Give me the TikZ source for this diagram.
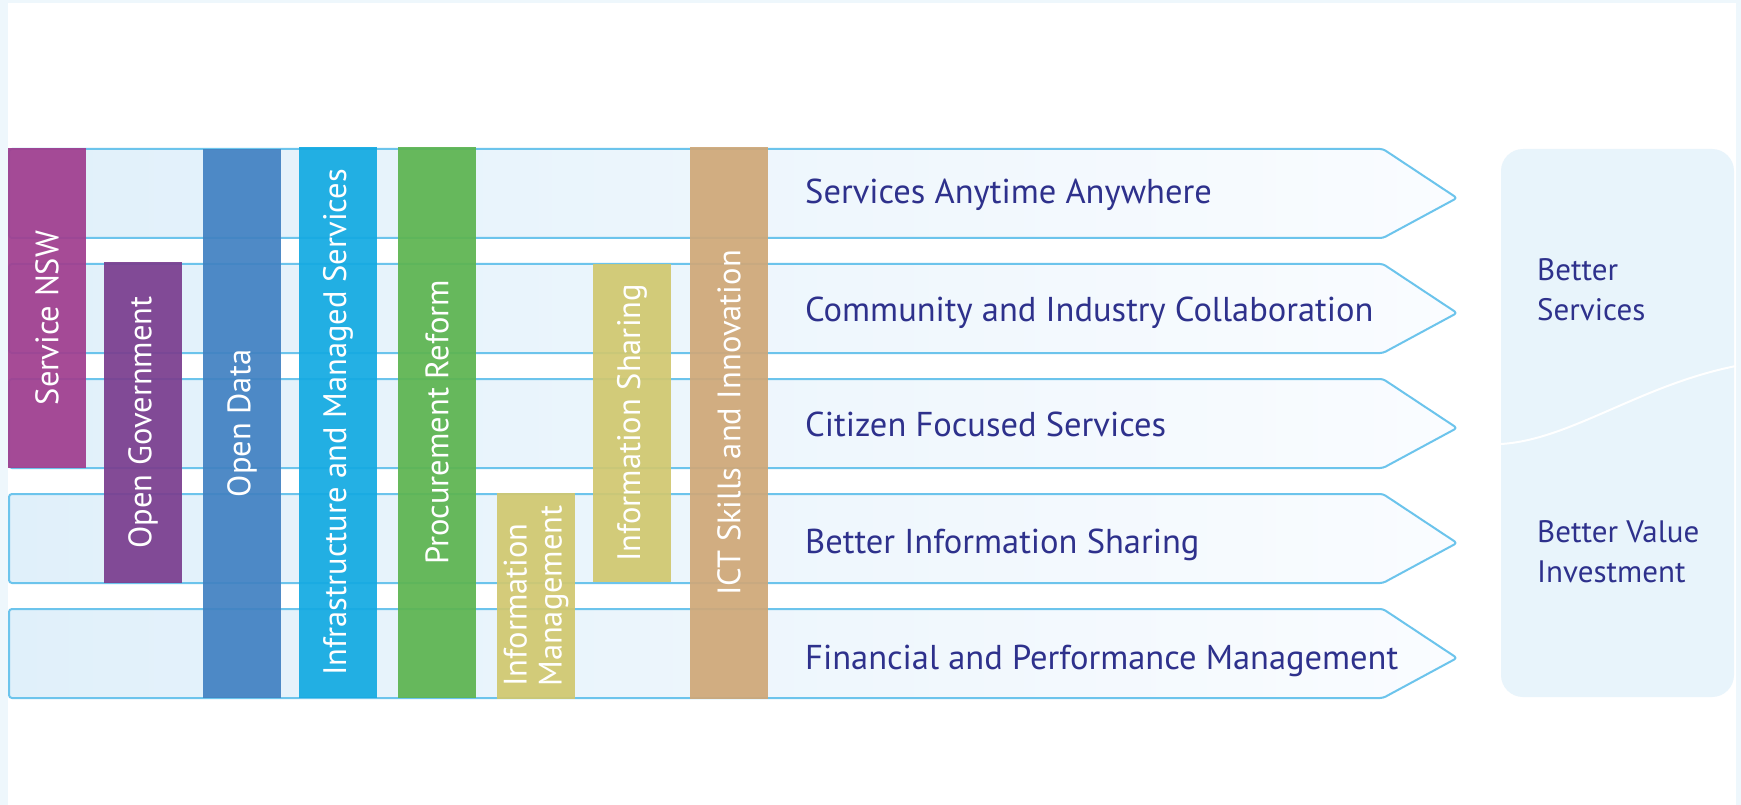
\documentclass[tikz,border=0pt]{standalone}
\usepackage{fontspec}
\setmainfont{PT Sans}
\definecolor{bandline}{RGB}{108,196,236}
\definecolor{bandleft}{RGB}{224,240,250}
\definecolor{bandright}{RGB}{250,252,255}
\definecolor{goalblue}{RGB}{46,49,140}
\definecolor{outcomefill}{RGB}{232,244,251}
\definecolor{framefill}{RGB}{238,247,252}
\definecolor{nswpurple}{RGB}{160,62,143}
\definecolor{govpurple}{RGB}{122,62,143}
\definecolor{datablue}{RGB}{66,130,194}
\definecolor{infracyan}{RGB}{20,170,226}
\definecolor{procgreen}{RGB}{93,180,80}
\definecolor{infoolive}{RGB}{209,200,112}
\definecolor{ictbrown}{RGB}{207,168,120}
\newcommand{\goalfont}{\fontsize{34.5}{40}\selectfont}
\newcommand{\pillarfont}{\fontsize{32.5}{35}\selectfont}
\newcommand{\outcomefont}{\fontsize{31}{40}\selectfont}
\begin{document}
\begin{tikzpicture}[x=1pt,y=-1pt,line join=round,
	band/.style={draw=bandline,line width=2pt,rounded corners=3pt,left color=bandleft,right color=bandright},
	goal/.style={anchor=base west,text=goalblue,font=\goalfont,inner sep=0pt},
	pillar/.style={rotate=90,minimum height=78pt,inner sep=0pt,fill opacity=.93,text opacity=1,text=white,font=\pillarfont,align=left},
	outcome/.style={anchor=base west,align=left,text=goalblue,font=\outcomefont,inner sep=0pt}]
	\useasboundingbox (0,0) rectangle (1741,805);
	% pale frame round the page
	\fill[framefill] (0,0) rectangle (1741,805);
	\fill[white] (8,3) rectangle (1736,805);
	% the five goal arrows (top edge / text baseline)
	\foreach \t/\b/\goal [count=\i] in {149/204/Services Anytime Anywhere,264/321/Community and Industry Collaboration,379/436/Citizen Focused Services,494/553/Better Information Sharing,609/669/Financial and Performance Management}{
		\draw[band] (9,\t) -- (1383,\t) -- (1457,\t+49) -- (1383,\t+89) -- (9,\t+89) -- cycle;
		\node[goal] (goal\i) at (805,\b) {\goal};
	}
	% pillars
	\node[pillar,fill=nswpurple,minimum width=320pt] (nsw) at (47,308) {};
	\node[pillar] (nswtext) at (47,318) {Service NSW};
	\node[pillar,fill=govpurple,minimum width=321pt] (opengov) at (143,422.5) {Open Government};
	\node[pillar,fill=datablue,minimum width=549pt] (opendata) at (242,423.5) {Open Data};
	\node[pillar,fill=infracyan,minimum width=551pt] (infra) at (338,422.5) {Infrastructure and Managed Services};
	\node[pillar,fill=procgreen,minimum width=551pt] (procure) at (437,422.5) {Procurement Reform};
	\node[pillar,fill=infoolive,minimum width=206pt] (infomgmt) at (536,596) {Information\\Management};
	\node[pillar,fill=infoolive,minimum width=318pt] (infoshare) at (632,423) {Information Sharing};
	\node[pillar,fill=ictbrown,minimum width=552pt] (ict) at (729,423) {ICT Skills and Innovation};
	% outcomes
	\node[fill=outcomefill,rounded corners=22pt,minimum width=233pt,minimum height=548pt,inner sep=0pt] (outcomes) at (1617.5,423) {};
	\draw[white,line width=2pt] (outcomes.west |- 0,444) .. controls (1570,440) and (1640,385) .. (1736,366);
	\node[outcome] (better) at (1537,320) {Better\\Services};
	\node[outcome] (value) at (1537,582) {Better Value\\Investment};
\end{tikzpicture}
\end{document}
